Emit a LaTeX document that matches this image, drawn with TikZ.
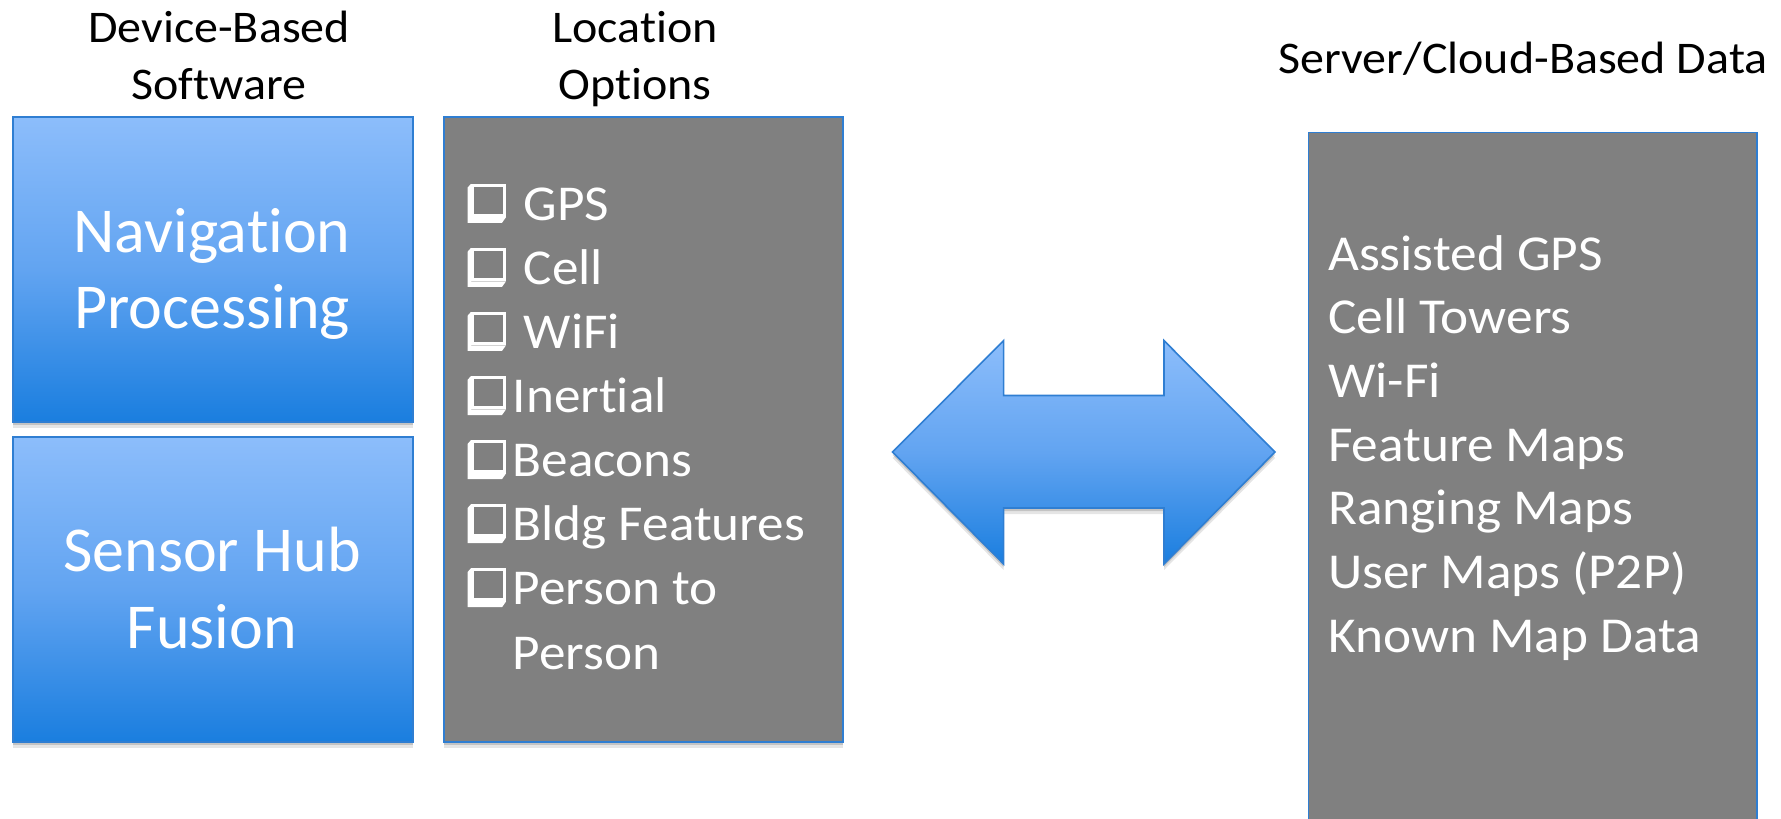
\documentclass[tikz,border=0pt]{standalone}
\usepackage{fontspec}
\setmainfont{Carlito}[Ligatures=NoCommon]
\newfontfamily\widecal{Carlito}[Ligatures=NoCommon, FakeStretch=1.06]
\usetikzlibrary{shadows}
\definecolor{bluetop}{HTML}{8CBDFB}
\definecolor{bluemid}{HTML}{62A4F1}
\definecolor{bluebot}{HTML}{1A7EDF}
\definecolor{blueline}{HTML}{2F7ED2}
\definecolor{boxgray}{HTML}{808080}
\newcommand\ckbox[1]{%
  \fill[white] (471,{#1-36.7}) -- (467.7,{#1-33}) -- (467.7,{#1+2.3}) -- (502,{#1+2.3}) -- (506,{#1-3.3}) -- (471,{#1-3.3}) -- cycle;
  \draw[white, line width=3.2pt] (472.6,{#1-35.1}) rectangle (504.4,{#1-4.9});
}
\begin{document}
\begin{tikzpicture}[x=1pt,y=-1pt,
  softshadow/.style={general shadow={fill=black,opacity=0.10,shadow yshift=-6pt},
                     general shadow={fill=black,opacity=0.15,shadow yshift=-3pt}},
  bluebox/.style={draw=blueline, line width=2pt, top color=bluetop, bottom color=bluebot, middle color=bluemid, softshadow, inner sep=0pt, anchor=north west},
  graybox/.style={draw=blueline, line width=1.6pt, fill=boxgray, softshadow, inner sep=0pt, anchor=north west},
  hdr/.style={font=\widecal\fontsize{45.3}{57}\selectfont, text=black, inner sep=0pt, anchor=base},
  big/.style={font=\fontsize{64}{76}\selectfont, text=white, inner sep=0pt, anchor=base},
  item/.style={font=\widecal\fontsize{50.2}{64}\selectfont, text=white, inner sep=0pt, anchor=base west},
  sitem/.style={font=\widecal\fontsize{50.3}{64}\selectfont, text=white, inner sep=0pt, anchor=base west}]
\useasboundingbox (0,0) rectangle (1781,819);
\begin{scope}
\clip (0,0) rectangle (1781,819);
% headers
\node[hdr] (h1a) at (219,42) {Device-Based};
\node[hdr] (h1b) at (219,99) {Software};
\node[hdr] (h2a) at (635,42) {Location};
\node[hdr] (h2b) at (635,99) {Options};
\node[hdr] (h3) at (1523,73) {Server/Cloud-Based Data};
% boxes
\node[bluebox, minimum width=400pt, minimum height=304.6pt] (nav) at (11.5,116) {};
\node[bluebox, minimum width=400pt, minimum height=305pt] (sensor) at (11.5,436) {};
\node[graybox, minimum width=399pt, minimum height=625pt] (loc) at (443,116) {};
\node[graybox, minimum width=448.8pt, minimum height=720pt] (server) at (1307.6,131.7) {};
% double arrow
\draw[blueline, line width=1.6pt, top color=bluetop, bottom color=bluebot, middle color=bluemid, softshadow]
  (892.6,452) -- (1003.6,340.6) -- (1003.6,395.5) -- (1164,395.5) -- (1164,340.6) -- (1275,452)
  -- (1164,564) -- (1164,508) -- (1003.6,508) -- (1003.6,564) -- cycle;
% box texts
\node[big] (nav1) at (212,252) {Navigation};
\node[big] (nav2) at (212,328) {Processing};
\node[big] (sen1) at (212,571) {Sensor Hub};
\node[big] (sen2) at (212,648) {Fusion};
% location options
\ckbox{220.5}
\node[item] (o1) at (523.5,220.5) {GPS};
\ckbox{284.6}
\node[item] (o2) at (523.5,284.6) {Cell};
\ckbox{348.6}
\node[item] (o3) at (523.5,348.6) {WiFi};
\ckbox{412.7}
\node[item] (o4) at (512.5,412.7) {Inertial};
\ckbox{476.8}
\node[item] (o5) at (512.5,476.8) {Beacons};
\ckbox{540.9}
\node[item] (o6) at (512.5,540.9) {Bldg Features};
\ckbox{604.9}
\node[item] (o7) at (512.5,604.9) {Person to};
\node[item] (o8) at (512.5,669) {Person};
% server data
\node[sitem] (s1) at (1328,270) {Assisted GPS};
\node[sitem] (s2) at (1328,333.7) {Cell Towers};
\node[sitem] (s3) at (1328,397.3) {Wi-Fi};
\node[sitem] (s4) at (1328,461) {Feature Maps};
\node[sitem] (s5) at (1328,524.7) {Ranging Maps};
\node[sitem] (s6) at (1328,588.3) {User Maps (P2P)};
\node[sitem] (s7) at (1328,652) {Known Map Data};
\end{scope}
\end{tikzpicture}
\end{document}
